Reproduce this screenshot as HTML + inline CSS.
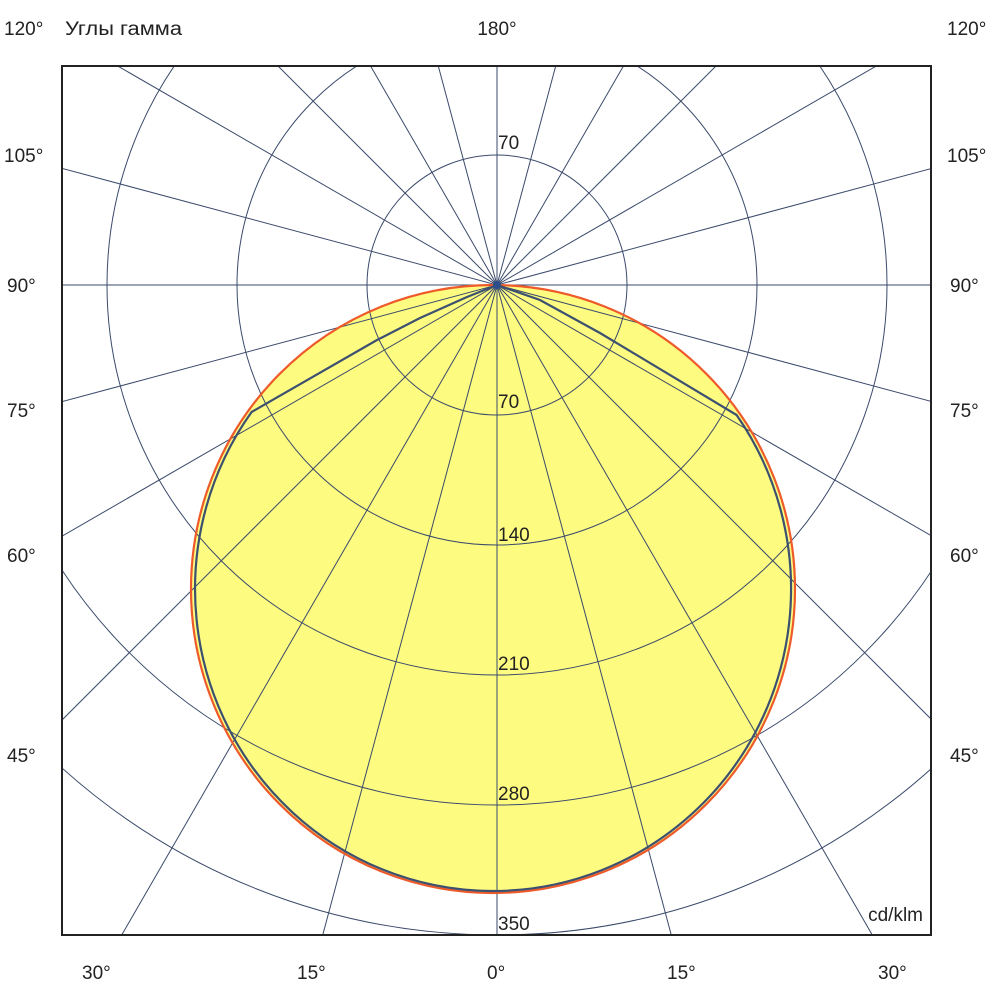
<!DOCTYPE html>
<html><head><meta charset="utf-8"><style>
html,body{margin:0;padding:0;background:#fff;overflow:hidden;width:1000px;height:1000px;}
svg{display:block;}
text{font-family:"Liberation Sans",Arial,"Noto Sans CJK SC",sans-serif;font-size:19px;fill:#222;}
</style></head><body>
<svg width="1000" height="1000" viewBox="0 0 1000 1000" xmlns="http://www.w3.org/2000/svg">
<defs><clipPath id="c"><rect x="62" y="66" width="869" height="869"/></clipPath></defs>
<rect x="0" y="0" width="1000" height="1000" fill="#fff"/>
<g clip-path="url(#c)">
<ellipse cx="493" cy="589" rx="302" ry="304" fill="#fdfc80"/>
<g stroke="#3b4a6b" stroke-width="1" fill="none">
<circle cx="497" cy="285" r="130"/>
<circle cx="497" cy="285" r="260"/>
<circle cx="497" cy="285" r="390"/>
<circle cx="497" cy="285" r="520"/>
<circle cx="497" cy="285" r="650"/>
<line x1="497" y1="-715" x2="497" y2="1285"/>
<line x1="-503" y1="285" x2="1497" y2="285"/>
<line x1="238" y1="-681" x2="756" y2="1251"/>
<line x1="-3" y1="-581" x2="997" y2="1151"/>
<line x1="-210" y1="-422" x2="1204" y2="992"/>
<line x1="-369" y1="-215" x2="1363" y2="785"/>
<line x1="-469" y1="26" x2="1463" y2="544"/>
<line x1="-469" y1="544" x2="1463" y2="26"/>
<line x1="-369" y1="785" x2="1363" y2="-215"/>
<line x1="-210" y1="992" x2="1204" y2="-422"/>
<line x1="-3" y1="1151" x2="997" y2="-581"/>
<line x1="238" y1="1251" x2="756" y2="-681"/>
</g>
<ellipse cx="493" cy="589" rx="302" ry="304" fill="none" stroke="#ee5a2a" stroke-width="2.2"/>
<path d="M497,285 L467,297 L420,318 L377,340 L251.6,412 A298 302 0 1 0 736.6,415 L600,333 L540,300 Z" fill="none" stroke="#3d5070" stroke-width="2.2"/>
<circle cx="497" cy="285" r="4" fill="#2c4f8a"/>
</g>
<rect x="62" y="66" width="869" height="869" fill="none" stroke="#222" stroke-width="2"/>
<text x="498" y="149">70</text>
<text x="498" y="408">70</text>
<text x="498" y="541">140</text>
<text x="498" y="670">210</text>
<text x="498" y="800">280</text>
<text x="498" y="930">350</text>
<text x="923" y="921" text-anchor="end">cd/klm</text>
<text x="4" y="35">120°</text>
<text x="65" y="35" textLength="117" lengthAdjust="spacingAndGlyphs">Углы гамма</text>
<text x="497" y="35" text-anchor="middle">180°</text>
<text x="947" y="35">120°</text>
<text x="4" y="162">105°</text>
<text x="947" y="162">105°</text>
<text x="7" y="292">90°</text>
<text x="950" y="292">90°</text>
<text x="7" y="417">75°</text>
<text x="950" y="417">75°</text>
<text x="7" y="562">60°</text>
<text x="950" y="562">60°</text>
<text x="7" y="762">45°</text>
<text x="950" y="762">45°</text>
<text x="82" y="979">30°</text>
<text x="297" y="979">15°</text>
<text x="487" y="979">0°</text>
<text x="667" y="979">15°</text>
<text x="878" y="979">30°</text>
</svg>
</body></html>
